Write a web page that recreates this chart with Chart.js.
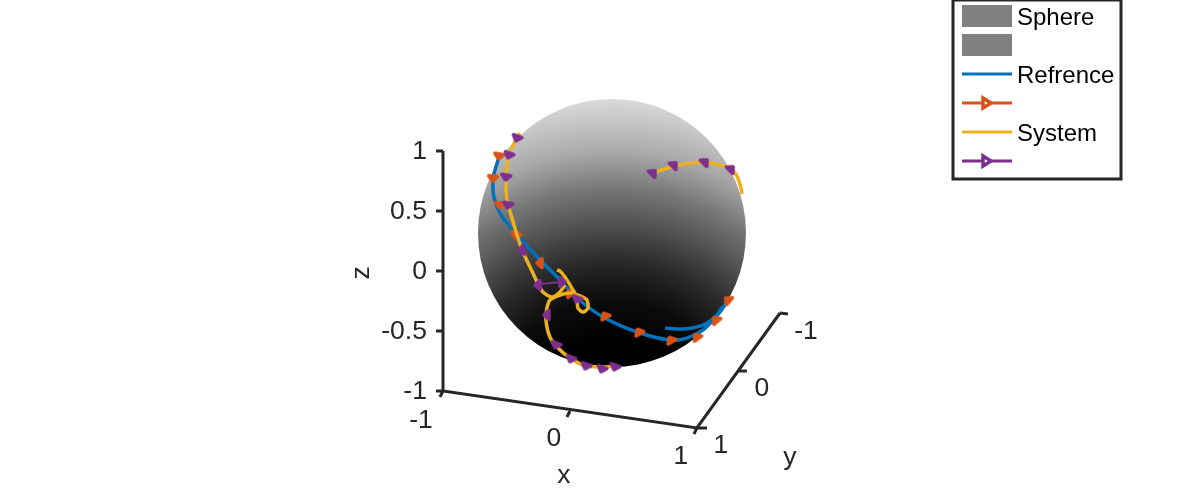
<!DOCTYPE html>
<html lang="en">
<head>
    <meta charset="UTF-8">
    <title>Sphere trajectories</title>
    <script src="https://cdn.jsdelivr.net/npm/chart.js"></script>
    <style>
        html, body { margin: 0; padding: 0; background: #fff; }
        canvas { display: block; }
    </style>
</head>
<body>
    <canvas id="myChart" width="1182" height="490"></canvas>

    <script>
        // all coordinates are on the projected plane, sphere centre = 0,0 and sphere radius = 1
        const sphereU = [0];
        const sphereV = [0];

        // shading: distance from the dark spot under the sphere -> gray level
        const shadeU = 0;
        const shadeV = -1.396;
        const shadeDist = [0, 0.6, 0.9, 1.19, 1.4, 1.72, 2.01, 2.4];
        const shadeGray = [0, 0, 12, 42, 72, 118, 170, 218];

        // reference curve
        const refU = [-0.843, -0.873, -0.888, -0.881, -0.836, -0.761, -0.687, -0.537, -0.388, -0.261, -0.067, 0.187, 0.433, 0.560, 0.679, 0.754, 0.806, 0.866, null, 0.821, 0.784, 0.679, 0.530, 0.396];
        const refV = [0.567, 0.470, 0.396, 0.269, 0.149, 0.045, -0.037, -0.201, -0.351, -0.485, -0.627, -0.739, -0.799, -0.784, -0.724, -0.649, -0.590, -0.500, null, -0.552, -0.612, -0.687, -0.716, -0.709];
        const refMarkU = [-0.843, -0.888, -0.836, -0.716, -0.537, -0.313, -0.052, 0.201, 0.440, 0.634, 0.776, 0.866];
        const refMarkV = [0.575, 0.410, 0.209, -0.015, -0.224, -0.448, -0.619, -0.739, -0.799, -0.776, -0.649, -0.500];
        const refMarkAngle = [190, 185, 185, 200, 270, 320, 330, 330, 330, 325, 320, 310];

        // system curve
        const sysU = [0.306, 0.463, 0.582, 0.694, 0.806, 0.888, 0.933, 0.963, 0.970, null,
            -0.687, -0.709, -0.769, -0.791, -0.784, -0.746, -0.709, -0.664, -0.590, -0.552, -0.515, -0.448, -0.388, -0.351, null,
            -0.410, -0.388, -0.351, -0.291, -0.261, -0.254, -0.216, -0.179, -0.187, -0.239, -0.313, -0.388, -0.463, -0.485, -0.493, -0.463, -0.403, -0.313, -0.216, -0.090, 0.037];
        const sysV = [0.448, 0.500, 0.522, 0.530, 0.507, 0.478, 0.425, 0.336, 0.291, null,
            0.746, 0.709, 0.582, 0.418, 0.246, 0.112, -0.015, -0.142, -0.299, -0.381, -0.440, -0.478, -0.440, -0.388, null,
            -0.276, -0.284, -0.328, -0.425, -0.500, -0.560, -0.590, -0.560, -0.500, -0.470, -0.448, -0.463, -0.500, -0.560, -0.649, -0.776, -0.858, -0.933, -0.985, -1.000, -0.993];
        const sysMarkU = [-0.709, -0.769, -0.791, -0.776, -0.672, -0.552, -0.373, -0.261, -0.485, -0.418, -0.306, -0.194, -0.075, 0.022, 0.306, 0.463, 0.694, 0.888];
        const sysMarkV = [0.709, 0.582, 0.418, 0.209, -0.127, -0.388, -0.366, -0.493, -0.612, -0.836, -0.940, -0.993, -1.015, -1.000, 0.448, 0.507, 0.530, 0.478];
        const sysMarkAngle = [200, 200, 190, 190, 260, 270, 90, 200, 270, 200, 200, 200, 200, 200, 45, 45, 45, 45];
        const sysLinkU = [-0.552, -0.373];
        const sysLinkV = [-0.381, -0.366];

        // box axes and their ticks
        const axisU = [-1.261, -1.261, 0.634, 1.254];
        const axisV = [0.612, -1.179, -1.455, -0.597];
        const tickU = [-1.261, -1.313, null, -1.261, -1.313, null, -1.261, -1.313, null, -1.261, -1.313, null, -1.261, -1.313, null,
            -1.261, -1.284, null, -0.313, -0.336, null, 0.634, 0.612, null,
            0.634, 0.709, null, 0.948, 1.007, null, 1.254, 1.313];
        const tickV = [0.612, 0.612, null, 0.164, 0.164, null, -0.284, -0.284, null, -0.731, -0.731, null, -1.179, -1.179, null,
            -1.179, -1.224, null, -1.328, -1.373, null, -1.455, -1.500, null,
            -1.455, -1.455, null, -1.030, -1.030, null, -0.597, -0.604];

        const zTickLabels = ['1', '0.5', '0', '-0.5', '-1'];
        const zTickV = [0.612, 0.164, -0.284, -0.731, -1.179];
        const zTickU = -1.381;
        const xTickLabels = ['-1', '0', '1'];
        const xTickU = [-1.425, -0.433, 0.515];
        const xTickV = [-1.396, -1.530, -1.664];
        const yTickLabels = ['-1', '0', '1'];
        const yTickU = [1.448, 1.119, 0.813];
        const yTickV = [-0.731, -1.157, -1.582];

        const legendLabels = ['Sphere', '', 'Refrence', '', 'System', ''];
        const blue = '#0072BD', orange = '#D95319', yellow = '#EDB120', purple = '#7E2F8E', dark = '#262626';

        const zip = (us, vs) => us.map((u, i) => ({ x: u, y: vs[i] }));

        // flat arrow head, the apex points up at rotation 0
        function arrowSprite(color) {
            const c = document.createElement('canvas');
            c.width = 20;
            c.height = 20;
            const g = c.getContext('2d');
            g.fillStyle = color;
            g.strokeStyle = color;
            g.lineWidth = 3.5;
            g.lineJoin = 'round';
            g.beginPath();
            g.moveTo(10, 7);
            g.lineTo(14.5, 12);
            g.lineTo(5.5, 12);
            g.closePath();
            g.fill();
            g.stroke();
            return c;
        }

        const curve = (us, vs, color, width) => ({
            data: zip(us, vs), showLine: true, borderColor: color, borderWidth: width,
            pointRadius: 0, fill: false, tension: 0.25
        });
        const marks = (us, vs, angles, color) => ({
            data: zip(us, vs), showLine: false, pointStyle: arrowSprite(color), pointRadius: 5,
            pointRotation: angles
        });

        function sphereFill(c) {
            const { chart } = c;
            const { x, y } = chart.scales;
            const cx = x.getPixelForValue(shadeU), cy = y.getPixelForValue(shadeV);
            const last = shadeDist[shadeDist.length - 1];
            const radius = y.getPixelForValue(-last) - y.getPixelForValue(0);
            // scales are not laid out on the first pass
            if (![cx, cy, radius].every(Number.isFinite)) return '#808080';
            const g = chart.ctx.createRadialGradient(cx, cy, 0, cx, cy, radius);
            shadeDist.forEach((d, i) => {
                const v = shadeGray[i];
                g.addColorStop(d / last, `rgb(${v},${v},${v})`);
            });
            return g;
        }

        // tick labels and axis titles
        const axisText = {
            id: 'axisText',
            afterDraw(chart) {
                const { ctx, scales: { x, y } } = chart;
                ctx.save();
                ctx.translate(0, 1);
                ctx.fillStyle = dark;
                ctx.font = '26.5px "Liberation Sans"';
                ctx.textBaseline = 'middle';
                ctx.textAlign = 'right';
                zTickLabels.forEach((t, i) => ctx.fillText(t, x.getPixelForValue(zTickU), y.getPixelForValue(zTickV[i])));
                ctx.textAlign = 'center';
                xTickLabels.forEach((t, i) => ctx.fillText(t, x.getPixelForValue(xTickU[i]), y.getPixelForValue(xTickV[i])));
                yTickLabels.forEach((t, i) => ctx.fillText(t, x.getPixelForValue(yTickU[i]), y.getPixelForValue(yTickV[i])));
                ctx.fillText('x', x.getPixelForValue(-0.358), y.getPixelForValue(-1.806));
                ctx.fillText('y', x.getPixelForValue(1.328), y.getPixelForValue(-1.672));
                ctx.translate(x.getPixelForValue(-1.866), y.getPixelForValue(-0.291));
                ctx.rotate(-Math.PI / 2);
                ctx.fillText('z', 0, 0);
                ctx.restore();
            }
        };

        // matlab style legend box, cut off by the top edge
        const legendBox = {
            id: 'legendBox',
            afterDraw(chart) {
                const ctx = chart.ctx;
                ctx.save();
                ctx.fillStyle = '#fff';
                ctx.strokeStyle = dark;
                ctx.lineWidth = 3;
                ctx.fillRect(953, 0, 168, 179);
                ctx.strokeRect(953, 0, 168, 179);
                ctx.fillStyle = '#808080';
                ctx.fillRect(962, 5, 50, 22);
                ctx.fillRect(962, 34, 50, 22);
                [[74, blue], [103, orange], [132, yellow], [161, purple]].forEach(([ly, color], i) => {
                    ctx.strokeStyle = color;
                    ctx.lineWidth = 3;
                    ctx.beginPath();
                    ctx.moveTo(962, ly);
                    ctx.lineTo(1012, ly);
                    ctx.stroke();
                    if (i % 2 === 1) {
                        ctx.fillStyle = '#fff';
                        ctx.lineWidth = 3.5;
                        ctx.beginPath();
                        ctx.moveTo(983, ly - 5);
                        ctx.lineTo(991, ly);
                        ctx.lineTo(983, ly + 5);
                        ctx.closePath();
                        ctx.fill();
                        ctx.stroke();
                    }
                });
                ctx.fillStyle = '#000';
                ctx.font = '24px "Liberation Sans"';
                ctx.textBaseline = 'middle';
                ctx.textAlign = 'left';
                legendLabels.forEach((t, i) => {
                    if (t) ctx.fillText(t, 1017, 18 + i * 29);
                });
                ctx.restore();
            }
        };

        const ctx = document.getElementById('myChart').getContext('2d');
        const myChart = new Chart(ctx, {
            type: 'scatter',
            data: {
                // first dataset ends up on top
                datasets: [
                    marks(sysMarkU, sysMarkV, sysMarkAngle, purple),
                    curve(sysLinkU, sysLinkV, purple, 2),
                    curve(sysU, sysV, yellow, 3.5),
                    marks(refMarkU, refMarkV, refMarkAngle, orange),
                    curve(refU, refV, blue, 3.5),
                    {
                        data: zip(sphereU, sphereV), showLine: false, pointRadius: 134,
                        backgroundColor: sphereFill, borderWidth: 0
                    },
                    { data: zip(axisU, axisV), showLine: true, borderColor: dark, borderWidth: 3, pointRadius: 0 },
                    { data: zip(tickU, tickV), showLine: true, borderColor: dark, borderWidth: 3, pointRadius: 0 }
                ]
            },
            options: {
                responsive: false,
                animation: false,
                events: [],
                layout: { padding: 0, autoPadding: false },
                plugins: { legend: { display: false }, tooltip: { enabled: false } },
                scales: {
                    x: { type: 'linear', display: false, min: -4.567, max: 4.254 },
                    y: { type: 'linear', display: false, min: -1.918, max: 1.739 }
                }
            },
            plugins: [axisText, legendBox]
        });
    </script>
</body>
</html>
